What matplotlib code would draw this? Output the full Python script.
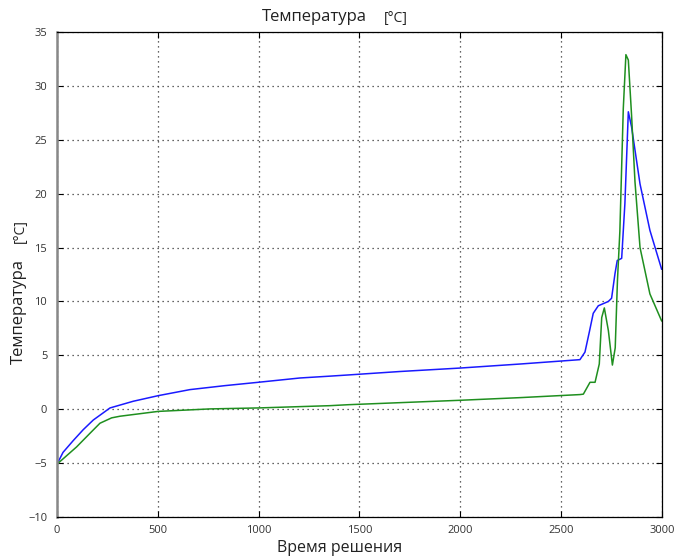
import matplotlib.pyplot as plt

plt.rcParams["font.family"] = ["Open Sans", "DejaVu Sans"]

# solution time / temperature, two probes
t_blue = [0, 30, 81, 130, 180, 263, 378, 502, 659, 833, 998, 1205, 1353, 1444,
          1700, 1998, 2300, 2593, 2618, 2640, 2659, 2684, 2734, 2750, 2767, 2778,
          2800, 2816, 2833, 2849, 2891, 2940, 2998]
temp_blue = [-5.1, -4.0, -2.9, -1.9, -1.0, 0.12, 0.74, 1.26, 1.82, 2.19, 2.5, 2.9,
             3.07, 3.18, 3.5, 3.82, 4.2, 4.6, 5.3, 7.2, 8.9, 9.6, 10.0, 10.3, 12.6,
             13.8, 14.0, 19.1, 27.6, 26.2, 20.9, 16.6, 13.0]

t_green = [0, 97, 160, 213, 271, 312, 502, 759, 998, 1353, 1444, 1998, 2300,
           2593, 2610, 2643, 2668, 2689, 2701, 2714, 2734, 2754, 2768, 2779,
           2791, 2808, 2821, 2833, 2849, 2866, 2891, 2940, 2998]
temp_green = [-5.1, -3.5, -2.3, -1.3, -0.8, -0.65, -0.2, 0.03, 0.12, 0.33, 0.42,
              0.83, 1.08, 1.36, 1.4, 2.5, 2.5, 4.2, 8.5, 9.4, 7.3, 4.1, 5.7, 11.9,
              16.5, 27.9, 32.9, 32.4, 27.3, 21.1, 15.0, 10.7, 8.2]

x_ticks = [0, 500, 1000, 1500, 2000, 2500, 3000]
y_ticks = list(range(-10, 36, 5))

fig = plt.figure(figsize=(6.76, 5.57), dpi=100)
ax = fig.add_axes([0.0843, 0.0718, 0.8950, 0.8707])

ax.plot(t_blue, temp_blue, color="#1a1aff", lw=1.1)
ax.plot(t_green, temp_green, color="#1f8f1f", lw=1.1)

ax.set_xlim(0, 3000)
ax.set_ylim(-10, 35)
ax.set_xticks(x_ticks)
ax.set_yticks(y_ticks)
ax.grid(True, color="#333333", linestyle=(0, (1, 3)), linewidth=0.9)
ax.tick_params(direction="in", length=4, top=True, right=True,
               labelsize=8, labelcolor="#333333")
ax.tick_params(axis="x", pad=6)
ax.tick_params(axis="y", pad=7)
for side in ["top", "right", "bottom"]:
    ax.spines[side].set_linewidth(0.9)
ax.spines["left"].set_color("#888888")
ax.spines["left"].set_linewidth(1.8)

fig.text(0.465, 0.969, "Температура", ha="center", va="center",
         fontsize=12, color="#222222")
fig.text(0.586, 0.966, "[°C]", ha="center", va="center",
         fontsize=10, color="#222222")
fig.text(0.5025, 0.016, "Время решения", ha="center", va="center",
         fontsize=11.5, color="#222222")
fig.text(0.028, 0.44, "Температура", ha="center", va="center",
         rotation=90, fontsize=12, color="#222222")
fig.text(0.030, 0.585, "[°C]", ha="center", va="center",
         rotation=90, fontsize=10, color="#222222")

fig.savefig("out.png", dpi=100)
